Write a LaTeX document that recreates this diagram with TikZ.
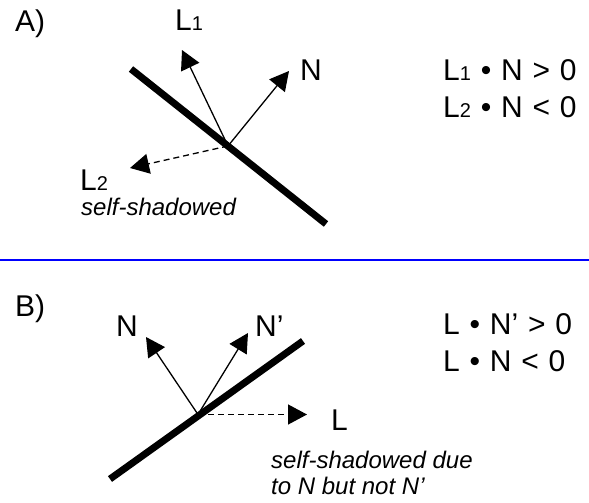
\documentclass[tikz,border=0pt]{standalone}
\usepackage{fontspec}
\setmainfont{Liberation Sans}
\usetikzlibrary{arrows.meta}
\newcommand\sdig[1]{{\fontsize{20}{20}\selectfont #1}}
\newcommand\eqfont{\fontsize{30}{30}\selectfont\spaceskip=9.8pt plus 1pt minus 0pt\relax}
\begin{document}
\begin{tikzpicture}[x=1pt,y=-1pt,
  surface/.style={line width=7pt},
  vec/.style={line width=1.3pt,-{Triangle[length=19pt,width=20pt]}},
  vecdash/.style={vec,dash pattern=on 6pt off 4pt},
  lbl/.style={anchor=base west,inner sep=0pt,font=\fontsize{30}{30}\selectfont},
  eq/.style={anchor=base west,inner sep=0pt,font=\eqfont},
  note/.style={anchor=base west,inner sep=0pt,font=\fontsize{24}{26}\selectfont\itshape},
  sep/.style={blue,line width=2.5pt}
]
\useasboundingbox (0,0) rectangle (589,503);

% ---------- Panel A ----------
\coordinate (sa1) at (131,69);
\coordinate (sa2) at (326,224);
\coordinate (OA) at (228,146);
\coordinate (L1tip) at (182,50);
\coordinate (NAtip) at (289,71);
\coordinate (L2tip) at (130,168);
\draw[surface] (sa1) -- (sa2);
\draw[vec] (OA) -- (L1tip);
\draw[vec] (OA) -- (NAtip);
\draw[vecdash] (OA) -- (L2tip);

\node[lbl] (A) at (15,32) {A)};
\node[lbl] (L1) at (175,31) {L\sdig1};
\node[lbl] (NA) at (300,81) {N};
\node[lbl] (L2) at (80,190) {L\sdig2};
\node[note] (shA) at (81,215) {self-shadowed};
\node[eq] (eqA1) at (443,81) {L\sdig1 • N > 0};
\node[eq] (eqA2) at (443,117) {L\sdig2 • N < 0};

% ---------- separator ----------
\coordinate (sepL) at (0,260);
\coordinate (sepR) at (589,260);
\draw[sep] (sepL) -- (sepR);

% ---------- Panel B ----------
\coordinate (sb1) at (110,479);
\coordinate (sb2) at (303,341);
\coordinate (OB) at (198,414.5);
\coordinate (NBtip) at (146,337);
\coordinate (NpBtip) at (248,333);
\coordinate (LBtip) at (307,414.5);
\draw[surface] (sb1) -- (sb2);
\draw[vec] (OB) -- (NBtip);
\draw[vec] (OB) -- (NpBtip);
\draw[vecdash] (OB) -- (LBtip);

\node[lbl] (B) at (15,316) {B)};
\node[lbl] (NB) at (116,336) {N};
\node[lbl] (NpB) at (255,336) {N’};
\node[lbl] (LB) at (331,430) {L};
\node[note] (shB1) at (271,468) {self-shadowed due};
\node[note] (shB2) at (271,494) {to N but not N’};
\node[eq] (eqB1) at (443,334) {L • N’ > 0};
\node[eq] (eqB2) at (443,371) {L • N < 0};
\end{tikzpicture}
\end{document}
